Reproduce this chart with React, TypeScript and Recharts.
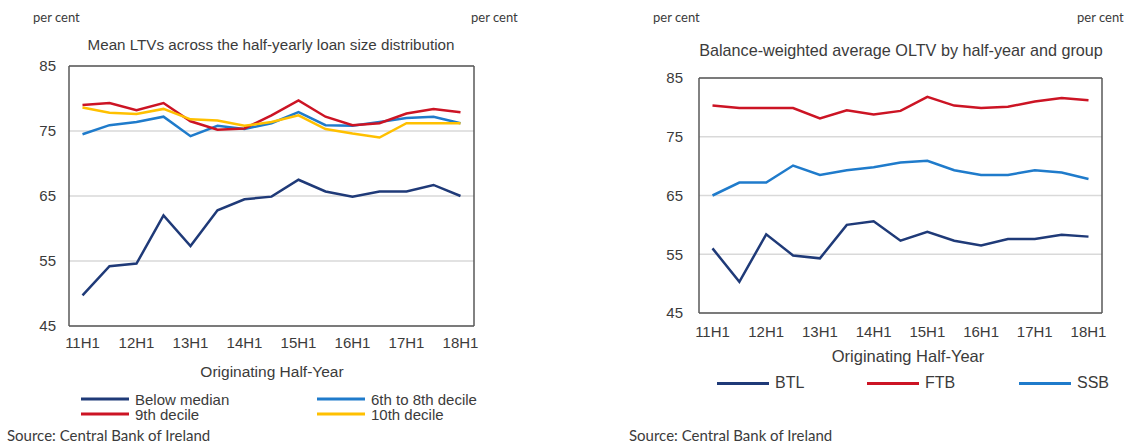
import React from 'react';
import { LineChart, Line, XAxis, YAxis, CartesianGrid, ReferenceLine } from 'recharts';

// half-years of origination, 2011H1 to 2018H1
const periods = [
  '11H1', '11H2', '12H1', '12H2', '13H1', '13H2', '14H1', '14H2',
  '15H1', '15H2', '16H1', '16H2', '17H1', '17H2', '18H1',
];
const yTicks = [45, 55, 65, 75, 85];

// left panel: mean LTV by loan size bucket
const belowMedian = [49.7, 54.2, 54.6, 62.0, 57.3, 62.8, 64.5, 64.9, 67.5, 65.7, 64.9, 65.7, 65.7, 66.7, 65.0];
const decile6to8 = [74.5, 75.9, 76.4, 77.2, 74.2, 75.8, 75.3, 76.2, 77.9, 75.9, 75.8, 76.4, 77.0, 77.2, 76.2];
const decile9 = [79.0, 79.3, 78.2, 79.3, 76.5, 75.2, 75.4, 77.4, 79.7, 77.2, 75.9, 76.2, 77.7, 78.4, 77.9];
const decile10 = [78.6, 77.8, 77.6, 78.4, 76.8, 76.6, 75.8, 76.4, 77.4, 75.3, 74.6, 74.0, 76.2, 76.2, 76.2];

// right panel: balance-weighted OLTV by borrower group
const btl = [56.0, 50.3, 58.4, 54.8, 54.3, 60.0, 60.6, 57.3, 58.8, 57.3, 56.5, 57.6, 57.6, 58.3, 58.0];
const ftb = [80.3, 79.9, 79.9, 79.9, 78.1, 79.5, 78.8, 79.4, 81.8, 80.3, 79.9, 80.1, 81.0, 81.6, 81.2];
const ssb = [65.0, 67.2, 67.2, 70.1, 68.5, 69.3, 69.8, 70.6, 70.9, 69.3, 68.5, 68.5, 69.3, 68.9, 67.8];

const NAVY = '#1f3a78';
const BLUE = '#1f7bcb';
const RED = '#cc1424';
const YELLOW = '#ffc000';

const leftSeries = [
  { key: 'below', name: 'Below median', color: NAVY, values: belowMedian },
  { key: 'd68', name: '6th to 8th decile', color: BLUE, values: decile6to8 },
  { key: 'd9', name: '9th decile', color: RED, values: decile9 },
  { key: 'd10', name: '10th decile', color: YELLOW, values: decile10 },
];
const rightSeries = [
  { key: 'btl', name: 'BTL', color: NAVY, values: btl },
  { key: 'ftb', name: 'FTB', color: RED, values: ftb },
  { key: 'ssb', name: 'SSB', color: BLUE, values: ssb },
];

type Series = typeof leftSeries[number];

const buildRows = (series: Series[]) =>
  periods.map((p, i) => {
    const row: Record<string, any> = { period: p };
    series.forEach(s => { row[s.key] = s.values[i]; });
    return row;
  });

const chartFont = '"Liberation Sans", Arial, sans-serif';
const noteFont = 'Lato, "Open Sans", sans-serif';
const textColor = '#3b3b3b';
const frame = '#595959';
const tick = { fill: textColor, fontSize: 15, fontFamily: chartFont };

const Text = ({ x, y, children, center = false, font = chartFont, size = 15 }: any) => (
  <div
    style={{
      position: 'absolute', left: x, top: y, whiteSpace: 'nowrap',
      transform: center ? 'translate(-50%, -50%)' : 'translateY(-50%)',
      fontFamily: font, fontSize: size, color: textColor, lineHeight: 1,
    }}
  >
    {children}
  </div>
);

const LegendItem = ({ x, y, s, lineW = 48, size = 15 }: any) => (
  <div style={{ position: 'absolute', left: x, top: y, transform: 'translateY(-50%)', display: 'flex', alignItems: 'center' }}>
    <div style={{ width: lineW, height: 3, background: s.color, marginRight: 6 }} />
    <span style={{ fontFamily: chartFont, fontSize: size, color: textColor, lineHeight: 1 }}>{s.name}</span>
  </div>
);

const Panel = ({ series, width, height, margin, leftW, rightW, tickGap, xTickMargin }: any) => (
  <LineChart width={width} height={height} data={buildRows(series)} margin={margin}>
    <CartesianGrid yAxisId="left" vertical={false} stroke="#d9d9d9" strokeWidth={1.5} />
    <XAxis
      dataKey="period"
      interval={1}
      tickLine={false}
      axisLine={{ stroke: frame, strokeWidth: 1.5 }}
      tick={tick}
      tickMargin={xTickMargin}
      height={30}
      padding={{ left: 13.5, right: 13.5 }}
    />
    <YAxis
      yAxisId="left"
      domain={[45, 85]}
      ticks={yTicks}
      width={leftW}
      tickLine={false}
      axisLine={{ stroke: frame, strokeWidth: 1.5 }}
      tick={tick}
      tickMargin={tickGap[0]}
    />
    <YAxis
      yAxisId="right"
      orientation="right"
      domain={[45, 85]}
      ticks={yTicks}
      width={rightW}
      tickLine={false}
      axisLine={{ stroke: frame, strokeWidth: 1.5 }}
      tick={{ ...tick, textAnchor: 'start' }}
      tickMargin={tickGap[1]}
    />
    <ReferenceLine yAxisId="left" y={85} stroke={frame} strokeWidth={1.5} />
    {series.map((s: Series) => (
      <Line
        key={s.key}
        yAxisId="left"
        dataKey={s.key}
        name={s.name}
        stroke={s.color}
        strokeWidth={2.5}
        dot={false}
        isAnimationActive={false}
      />
    ))}
  </LineChart>
);

export default function App() {
  return (
    <div style={{ position: 'fixed', left: 0, top: 0, width: 1136, height: 446, background: '#fff', overflow: 'hidden' }}>
      {/* left panel */}
      <div style={{ position: 'absolute', left: 0, top: 0 }}>
        <Panel
          series={leftSeries}
          width={540}
          height={446}
          margin={{ top: 66, right: 0, bottom: 90, left: 0 }}
          leftW={69}
          rightW={66}
          tickGap={[7, 7]}
          xTickMargin={5}
        />
      </div>
      <Text x={33} y={17} font={noteFont} size={13}>per cent</Text>
      <Text x={471} y={17} font={noteFont} size={13}>per cent</Text>
      <Text x={271} y={45} center size={15.2}>Mean LTVs across the half-yearly loan size distribution</Text>
      <Text x={272} y={372} center size={15.5}>Originating Half-Year</Text>
      <LegendItem x={81} y={399} s={leftSeries[0]} />
      <LegendItem x={317} y={399} s={leftSeries[1]} />
      <LegendItem x={81} y={414} s={leftSeries[2]} />
      <LegendItem x={317} y={414} s={leftSeries[3]} />
      <Text x={7} y={435} font={noteFont} size={15}>Source: Central Bank of Ireland</Text>

      {/* right panel */}
      <div style={{ position: 'absolute', left: 620, top: 0 }}>
        <Panel
          series={rightSeries}
          width={516}
          height={446}
          margin={{ top: 78, right: 0, bottom: 103, left: 0 }}
          leftW={79}
          rightW={34}
          tickGap={[10, 8]}
          xTickMargin={7}
        />
      </div>
      <Text x={653} y={17} font={noteFont} size={13}>per cent</Text>
      <Text x={1077} y={17} font={noteFont} size={13}>per cent</Text>
      <Text x={901} y={50} center size={16.2}>Balance-weighted average OLTV by half-year and group</Text>
      <Text x={908} y={356} center size={16.5}>Originating Half-Year</Text>
      <LegendItem x={717} y={383} s={rightSeries[0]} lineW={52} size={16} />
      <LegendItem x={867} y={383} s={rightSeries[1]} lineW={52} size={16} />
      <LegendItem x={1019} y={383} s={rightSeries[2]} lineW={52} size={16} />
      <Text x={629} y={435} font={noteFont} size={15}>Source: Central Bank of Ireland</Text>
    </div>
  );
}
